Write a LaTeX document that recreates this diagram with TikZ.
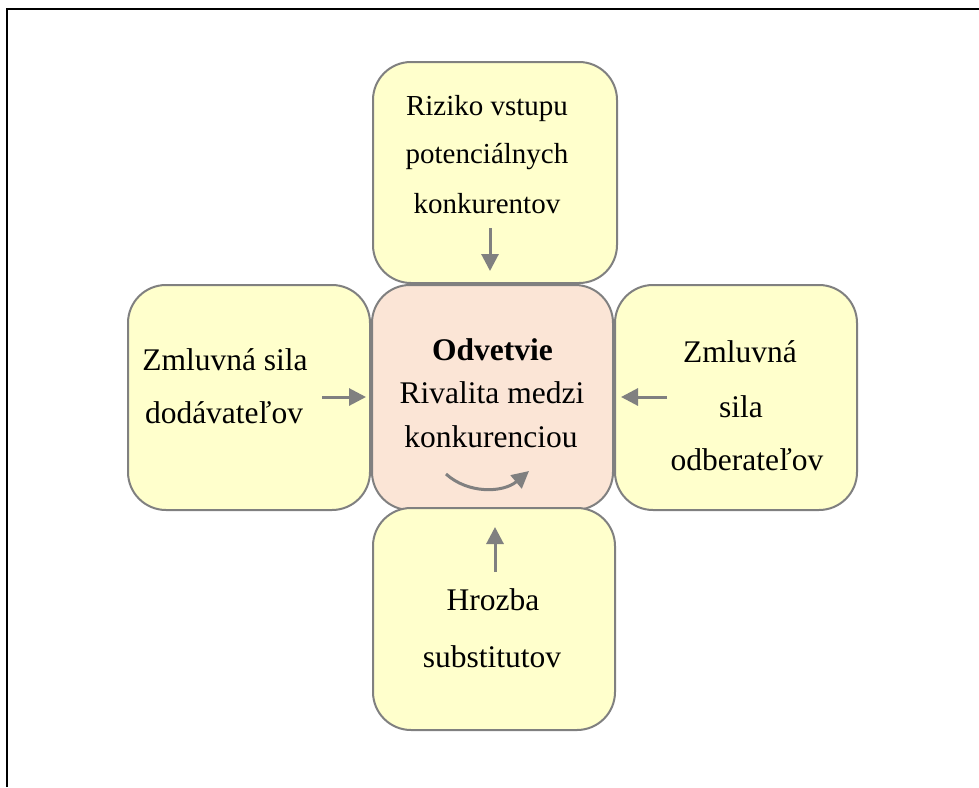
\documentclass[tikz,border=0pt]{standalone}
\usepackage{fontspec}
\setmainfont{Liberation Serif}
\usetikzlibrary{arrows.meta}
\definecolor{forcefill}{HTML}{FFFFCC}
\definecolor{corefill}{HTML}{FBE5D6}
\definecolor{edgegray}{HTML}{808080}
\tikzset{
  forcebox/.style={draw=edgegray, line width=2pt, fill=forcefill, rounded corners=38pt,
    inner sep=0pt, outer sep=0pt},
  corebox/.style={forcebox, fill=corefill},
  lbl/.style={anchor=base, inner sep=0pt, font=\fontsize{31.5}{38}\selectfont},
  lblsmall/.style={anchor=base, inner sep=0pt, font=\fontsize{29}{35}\selectfont},
  push/.style={draw=edgegray, line width=3pt, -{Triangle[length=17pt,width=17pt]}}
}
\begin{document}
\begin{tikzpicture}[x=1pt, y=-1pt]
\useasboundingbox (0,0) rectangle (979,787);
\fill[white] (0,0) rectangle (979,787);

% open frame: top and left edges only
\draw[line width=2.5pt] (7,787) -- (7,9) -- (979,9);

% the five forces
\node[forcebox, minimum width=244pt, minimum height=221pt] (entry) at (495,172.5) {};
\node[corebox,  minimum width=241pt, minimum height=225pt] (rivalry) at (492.5,397.5) {};
\node[forcebox, minimum width=242pt, minimum height=225pt] (supp) at (249,397.5) {};
\node[forcebox, minimum width=242pt, minimum height=225pt] (buyers) at (736,397.5) {};
\node[forcebox, minimum width=242pt, minimum height=222pt] (subst) at (494,619) {};

% labels
\node[lblsmall] (entryA) at (487,115) {Riziko vstupu};
\node[lblsmall] (entryB) at (487,163) {potenciálnych};
\node[lblsmall] (entryC) at (487,213) {konkurentov};

\node[lbl] (rivA) at (492.5,360) {\bfseries Odvetvie};
\node[lbl] (rivB) at (492,403) {Rivalita medzi};
\node[lbl] (rivC) at (491,447) {konkurenciou};

\node[lbl] (suppA) at (225,370) {Zmluvná sila};
\node[lbl] (suppB) at (224,423) {dodávateľov};

\node[lbl] (buyA) at (740,362) {Zmluvná};
\node[lbl] (buyB) at (741,417) {sila};
\node[lbl] (buyC) at (747,470) {odberateľov};

\node[lbl] (subA) at (493,610) {Hrozba};
\node[lbl] (subB) at (492,667) {substitutov};

% arrow end points
\coordinate (entryS) at (490,228);  \coordinate (entryE) at (490,271);
\coordinate (suppS)  at (322,397);  \coordinate (suppE)  at (366,397);
\coordinate (buyS)   at (667,397);  \coordinate (buyE)   at (621,397);
\coordinate (subS)   at (495,572);  \coordinate (subE)   at (495,527);
\coordinate (rivS)   at (446,474);  \coordinate (rivE)   at (529,471);

\draw[push] (entryS) -- (entryE);
\draw[push] (suppS) -- (suppE);
\draw[push] (buyS) -- (buyE);
\draw[push] (subS) -- (subE);
\draw[push] (rivS) .. controls (468,494) and (503,493) .. (rivE);
\end{tikzpicture}
\end{document}
